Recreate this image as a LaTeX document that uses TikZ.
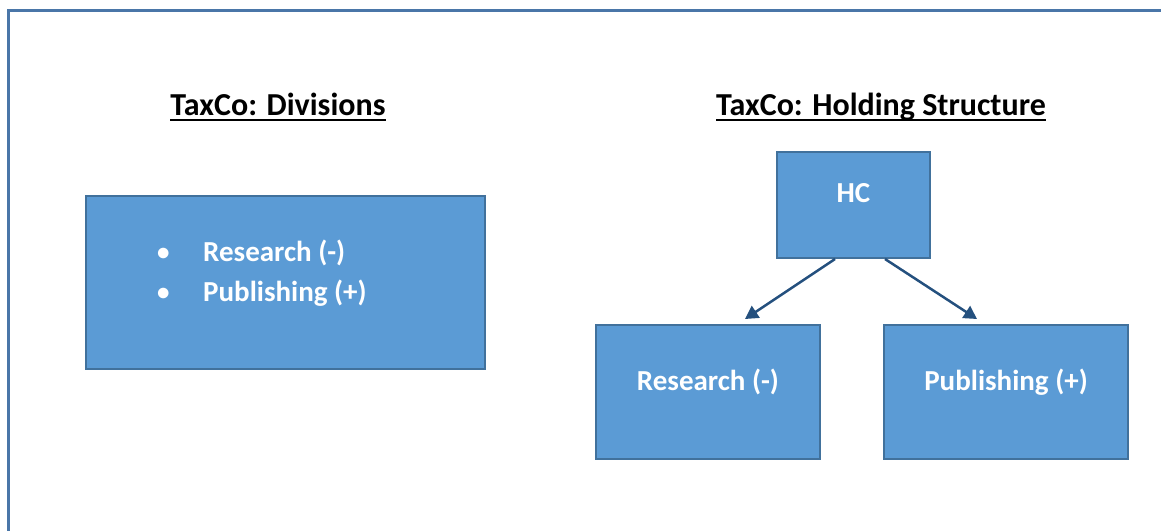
\documentclass[tikz,border=0pt]{standalone}
\usepackage{fontspec}
\setmainfont{Carlito}
\usepackage{tikz}
\usetikzlibrary{arrows.meta}

\definecolor{boxfill}{HTML}{5B9BD5}
\definecolor{boxline}{HTML}{41719C}
\definecolor{arrowcol}{HTML}{24507E}
\definecolor{framecol}{HTML}{4A76A8}

\newcommand{\ulined}[1]{\setbox0\hbox{#1}\rlap{\rule[-5pt]{\wd0}{2pt}}\box0}
\newcommand{\bulletmark}{\makebox[47pt][l]{\hspace{1pt}\raisebox{1pt}{\fontsize{25}{25}\selectfont •}}}

\tikzset{
  unitbox/.style={draw=boxline, fill=boxfill, line width=2pt, inner sep=0pt},
  boxtext/.style={text=white, font=\fontsize{29}{40}\selectfont\bfseries, inner sep=0pt},
  titletext/.style={font=\fontsize{32}{36}\selectfont\bfseries, inner sep=0pt},
  ownarrow/.style={draw=arrowcol, line width=2.5pt, -{Triangle[length=13pt,width=14pt]}}
}

\begin{document}
\begin{tikzpicture}[x=1pt, y=-1pt]
		\useasboundingbox (0,0) rectangle (1161,530);
		% Frame
		\draw[framecol, line width=3pt] (8.5, 540) -- (8.5, 10.5) -- (1170, 10.5);
		% Titles
		\node[titletext] (divtitle) at (278, 107) {\ulined{TaxCo: Divisions}};
		\node[titletext] (holdtitle) at (881, 107) {\ulined{TaxCo: Holding Structure}};
		% Divisions box
		\node[unitbox, minimum width=399pt, minimum height=173pt] (div) at (285.5, 282.5) {};
		\node[boxtext, align=left, anchor=west] (divlist) at (156, 273)
			{\bulletmark Research (-)\\ \bulletmark Publishing (+)};
		% Holding structure
		\node[unitbox, minimum width=153pt, minimum height=106pt] (hc) at (853.5, 205) {};
		\node[boxtext] (hclabel) at (853.5, 193) {HC};
		\node[unitbox, minimum width=224pt, minimum height=134pt] (res) at (708, 392) {};
		\node[boxtext] (reslabel) at (708, 382) {Research (-)};
		\node[unitbox, minimum width=244pt, minimum height=134pt] (pub) at (1006, 392) {};
		\node[boxtext] (publabel) at (1006, 382) {Publishing (+)};
		% Arrows
		\draw[ownarrow] ([xshift=-18.5pt]hc.south) -- ([xshift=37pt, yshift=5pt]res.north);
		\draw[ownarrow] ([xshift=31.5pt]hc.south) -- ([xshift=-29pt, yshift=5pt]pub.north);
	\end{tikzpicture}
\end{document}
